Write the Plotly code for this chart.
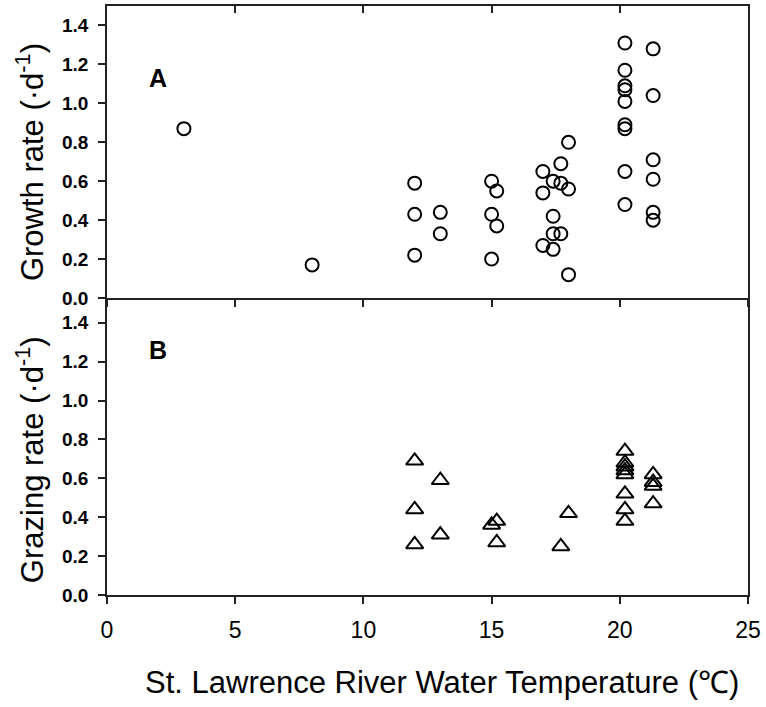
import plotly.graph_objects as go

# Panel A: growth rate vs temperature
temp_growth = [3.0, 8.0,
               12.0, 12.0, 12.0, 13.0, 13.0,
               15.0, 15.2, 15.0, 15.2, 15.0,
               17.0, 17.7, 17.4, 17.7, 18.0, 17.0, 17.4, 17.4, 17.7, 17.0, 17.4, 18.0, 18.0,
               20.2, 20.2, 20.2, 20.2, 20.2, 20.2, 20.2, 20.2, 20.2,
               21.3, 21.3, 21.3, 21.3, 21.3, 21.3]
growth = [0.87, 0.17,
          0.59, 0.43, 0.22, 0.44, 0.33,
          0.60, 0.55, 0.43, 0.37, 0.20,
          0.65, 0.69, 0.60, 0.59, 0.56, 0.54, 0.42, 0.33, 0.33, 0.27, 0.25, 0.80, 0.12,
          1.31, 1.17, 1.09, 1.07, 1.01, 0.89, 0.87, 0.65, 0.48,
          1.28, 1.04, 0.71, 0.61, 0.44, 0.40]

# Panel B: grazing rate vs temperature
temp_grazing = [12.0, 12.0, 12.0, 13.0, 13.0,
                15.2, 15.2, 15.0, 18.0, 17.7,
                20.2, 20.2, 20.2, 20.2, 20.2, 20.2, 20.2, 20.2,
                21.3, 21.3, 21.3, 21.3]
grazing = [0.69, 0.44, 0.26, 0.59, 0.31,
           0.38, 0.27, 0.36, 0.42, 0.25,
           0.74, 0.68, 0.66, 0.64, 0.62, 0.52, 0.44, 0.38,
           0.62, 0.58, 0.56, 0.47]

y_ticks = [0.0, 0.2, 0.4, 0.6, 0.8, 1.0, 1.2, 1.4]
x_ticks = [0, 5, 10, 15, 20, 25]

FONT = "Liberation Sans, Arial, sans-serif"
LINE = "#222222"

fig = go.Figure()
fig.add_trace(go.Scatter(
    x=temp_growth, y=growth, mode="markers", xaxis="x", yaxis="y",
    marker=dict(symbol="circle-open", size=13, color="black",
                line=dict(width=2, color="black")),
    showlegend=False, hoverinfo="x+y"))
fig.add_trace(go.Scatter(
    x=temp_grazing, y=grazing, mode="markers", xaxis="x2", yaxis="y2",
    marker=dict(symbol="triangle-up-open", size=15, color="black",
                line=dict(width=2, color="black")),
    showlegend=False, hoverinfo="x+y"))
# invisible trace to carry the top-edge tick axis of panel A
fig.add_trace(go.Scatter(x=[x_ticks[0]], y=[y_ticks[0]], xaxis="x3", yaxis="y",
                         mode="markers", marker=dict(opacity=0), showlegend=False,
                         hoverinfo="skip"))

split = 297 / 589

axis_common = dict(showline=True, linecolor=LINE, linewidth=1.5,
                   showgrid=False, zeroline=False, tickcolor=LINE, tickwidth=1.5,
                   ticklen=7, automargin=False)

ytick_font = dict(size=19, weight="bold", family=FONT)

fig.update_layout(
    width=766, height=707,
    margin=dict(l=107, r=18, t=6, b=112),
    paper_bgcolor="white", plot_bgcolor="white",
    font=dict(family=FONT, color="black"),
    xaxis=dict(**axis_common, mirror=True, range=[0, 25], anchor="y", ticks="outside",
               tickvals=x_ticks, showticklabels=False),
    xaxis3=dict(range=[0, 25], overlaying="x", anchor="y", side="top",
                ticks="inside", tickvals=x_ticks, showticklabels=False,
                showline=False, showgrid=False, zeroline=False,
                tickcolor=LINE, tickwidth=1.5, ticklen=7),
    yaxis=dict(**axis_common, mirror=True, range=[0, 1.5], domain=[split, 1], anchor="x",
               ticks="outside", tickvals=y_ticks, tickformat=".1f",
               tickfont=ytick_font, ticklabelstandoff=6),
    xaxis2=dict(**axis_common, mirror=False, range=[0, 25], anchor="y2", ticks="outside",
                tickvals=x_ticks, tickfont=dict(size=23), ticklabelstandoff=7),
    yaxis2=dict(**axis_common, mirror=True, range=[0, 1.527], domain=[0, split], anchor="x2",
                ticks="outside", tickvals=y_ticks, tickformat=".1f",
                tickfont=ytick_font, ticklabelstandoff=6),
    annotations=[
        dict(text="A", x=2.0, y=1.13, xref="x", yref="y", showarrow=False,
             font=dict(size=25, weight="bold", family=FONT)),
        dict(text="B", x=2.0, y=1.26, xref="x2", yref="y2", showarrow=False,
             font=dict(size=25, weight="bold", family=FONT)),
        # axis titles
        dict(text="Growth rate (·d<sup>-1</sup>)", x=-0.1201, y=0.735,
             xref="paper", yref="paper", textangle=-90, showarrow=False,
             xanchor="center", yanchor="middle", font=dict(size=31)),
        dict(text="Grazing rate (·d<sup>-1</sup>)", x=-0.1201, y=0.229,
             xref="paper", yref="paper", textangle=-90, showarrow=False,
             xanchor="center", yanchor="middle", font=dict(size=31)),
        dict(text="St. Lawrence River Water Temperature (℃)", x=0.5226, y=-0.1494,
             xref="paper", yref="paper", showarrow=False,
             xanchor="center", yanchor="middle", font=dict(size=31)),
    ],
)

fig.write_html("out.html", config={"displayModeBar": False},
               post_script="document.body.style.margin='0';")
